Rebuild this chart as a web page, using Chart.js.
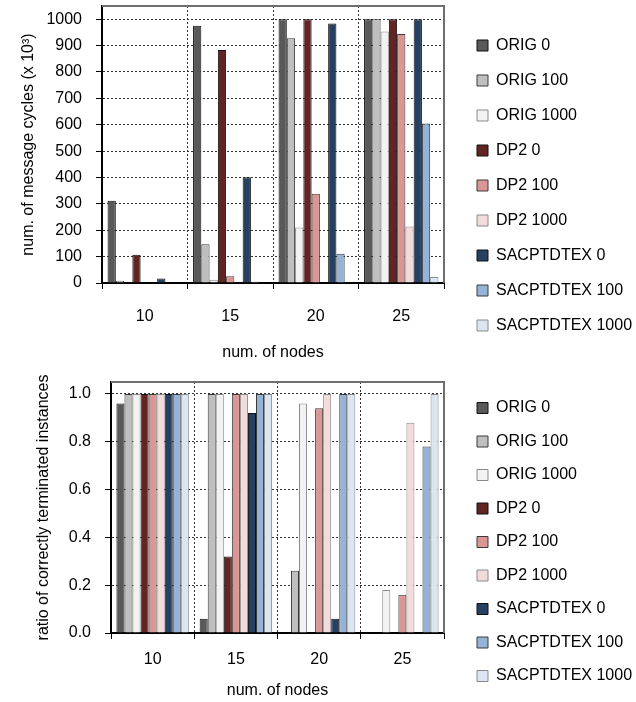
<!DOCTYPE html>
<html>
<head>
<meta charset="utf-8">
<script src="https://cdn.jsdelivr.net/npm/chart.js@4"></script>
<style>
  body { margin: 0; background: #fff; }
  canvas { display: block; }
</style>
</head>
<body>
<canvas id="cyclesChart" width="636" height="365"></canvas>
<canvas id="ratioChart" width="636" height="337"></canvas>
<script>
// Categories (number of nodes)
const nodes = ["10", "15", "20", "25"];

// Series names
const seriesNames = [
  "ORIG 0", "ORIG 100", "ORIG 1000",
  "DP2 0", "DP2 100", "DP2 1000",
  "SACPTDTEX 0", "SACPTDTEX 100", "SACPTDTEX 1000",
];

// Top chart: num. of message cycles (x 10^3)
const orig0Cycles = [312, 975, 1000, 1000];
const orig100Cycles = [9, 147, 928, 1000];
const orig1000Cycles = [1, 12, 210, 953];
const dp20Cycles = [107, 883, 1000, 1000];
const dp2100Cycles = [1, 26, 338, 944];
const dp21000Cycles = [0, 1, 2, 214];
const sac0Cycles = [17, 401, 984, 1000];
const sac100Cycles = [1, 5, 111, 605];
const sac1000Cycles = [0, 0, 1, 23];

// Bottom chart: ratio of correctly terminated instances
const orig0Ratio = [0.96, 0.06, 0, 0];
const orig100Ratio = [1, 1, 0.26, 0];
const orig1000Ratio = [1, 1, 0.96, 0.18];
const dp20Ratio = [1, 0.32, 0, 0];
const dp2100Ratio = [1, 1, 0.94, 0.16];
const dp21000Ratio = [1, 1, 1, 0.88];
const sac0Ratio = [1, 0.92, 0.06, 0];
const sac100Ratio = [1, 1, 1, 0.78];
const sac1000Ratio = [1, 1, 1, 1];

// Tick labels of the y axes
const cycleTicks = [0, 100, 200, 300, 400, 500, 600, 700, 800, 900, 1000];
const ratioTicks = [0, 0.2, 0.4, 0.6, 0.8, 1.0];

const fillColors = [
  "#595959", "#bfbfbf", "#f2f2f2",
  "#632523", "#d99694", "#f2dcdb",
  "#254061", "#95b3d7", "#dce6f2",
];
const edgeColors = [
  "#111111", "#3a3a3a", "#8a8a8a",
  "#111111", "#3a3a3a", "#8a8a8a",
  "#111111", "#3a3a3a", "#8a8a8a",
];

const font = { family: "'Liberation Sans', Arial, sans-serif", size: 16 };

// legend sits in a fixed 192px column right of the plot
const legendColumn = {
  id: "legendColumn",
  beforeInit(chart) {
    const fit = chart.legend.fit;
    chart.legend.fit = function () {
      fit.bind(chart.legend)();
      this.width = 192;
    };
  },
  afterLayout(chart) {
    chart.legend.left = 477 - chart.options.plugins.legend.labels.padding;
  },
};

// top and right edge of the plot frame
const plotFrame = {
  id: "plotFrame",
  afterDraw(chart) {
    const { ctx, chartArea } = chart;
    ctx.save();
    ctx.strokeStyle = "#6e6e6e";
    ctx.lineWidth = 2;
    ctx.beginPath();
    ctx.moveTo(chartArea.left, chartArea.top);
    ctx.lineTo(chartArea.right, chartArea.top);
    ctx.lineTo(chartArea.right, chartArea.bottom);
    ctx.stroke();
    ctx.restore();
  },
};

function makeDatasets(seriesValues) {
  return seriesValues.map((values, i) => ({
    label: seriesNames[i],
    data: values,
    backgroundColor: fillColors[i],
    borderColor: edgeColors[i],
    borderWidth: 1,
    barPercentage: 1.0,
    categoryPercentage: 0.87,
  }));
}

function makeChart(id, opts) {
  const ctx = document.getElementById(id).getContext("2d");
  return new Chart(ctx, {
    type: "bar",
    data: { labels: nodes, datasets: makeDatasets(opts.series) },
    plugins: [legendColumn, plotFrame],
    options: {
      responsive: false,
      animation: false,
      layout: { padding: opts.padding },
      plugins: {
        tooltip: { enabled: false },
        legend: {
          position: "right",
          labels: {
            color: "#000",
            font: font,
            boxWidth: 11,
            boxHeight: 11,
            padding: opts.legendPadding,
          },
        },
      },
      scales: {
        x: {
          afterFit: (scale) => {
            scale.height = opts.xHeight;
          },
          grid: { offset: true, color: "#333", lineWidth: 1, tickLength: 6, tickColor: "#000" },
          border: { color: "#000", width: 2, dash: [2, 2] },
          ticks: { color: "#000", font: font, padding: opts.xTickPadding },
          title: {
            display: true,
            text: "num. of nodes",
            color: "#000",
            font: font,
            padding: opts.xTitlePadding,
          },
        },
        y: {
          min: 0,
          max: opts.yMax,
          afterBuildTicks: (scale) => {
            scale.ticks = opts.ticks.map((v) => ({ value: v }));
          },
          afterFit: (scale) => {
            scale.width = opts.yWidth;
            scale.paddingTop = 0;
            scale.paddingBottom = 0;
          },
          grid: { color: "#333", lineWidth: 1, tickLength: 6, tickColor: "#000" },
          border: { color: "#000", width: 2, dash: [2, 2] },
          ticks: { color: "#000", font: font, padding: 14, callback: opts.tickFormat },
          title: {
            display: true,
            text: opts.yTitle,
            color: "#000",
            font: font,
          },
        },
      },
    },
  });
}

makeChart("cyclesChart", {
  series: [orig0Cycles, orig100Cycles, orig1000Cycles, dp20Cycles, dp2100Cycles,
    dp21000Cycles, sac0Cycles, sac100Cycles, sac1000Cycles],
  yMax: 1050,
  ticks: cycleTicks,
  tickFormat: (v) => String(v),
  yTitle: "num. of message cycles (x 10³)",
  yWidth: 87,
  xHeight: 82,
  padding: { top: 6, left: 15, right: 0, bottom: 0 },
  legendPadding: 19,
  xTickPadding: 18,
  xTitlePadding: { top: 15, bottom: 3 },
});

makeChart("ratioChart", {
  series: [orig0Ratio, orig100Ratio, orig1000Ratio, dp20Ratio, dp2100Ratio,
    dp21000Ratio, sac0Ratio, sac100Ratio, sac1000Ratio],
  yMax: 1.05,
  ticks: ratioTicks,
  tickFormat: (v) => Number(v).toFixed(1),
  yTitle: "ratio of correctly terminated instances",
  yWidth: 81,
  xHeight: 69,
  padding: { top: 17, left: 30, right: 0, bottom: 0 },
  legendPadding: 17.5,
  xTickPadding: 11,
  xTitlePadding: { top: 11, bottom: 2 },
});
</script>
</body>
</html>
